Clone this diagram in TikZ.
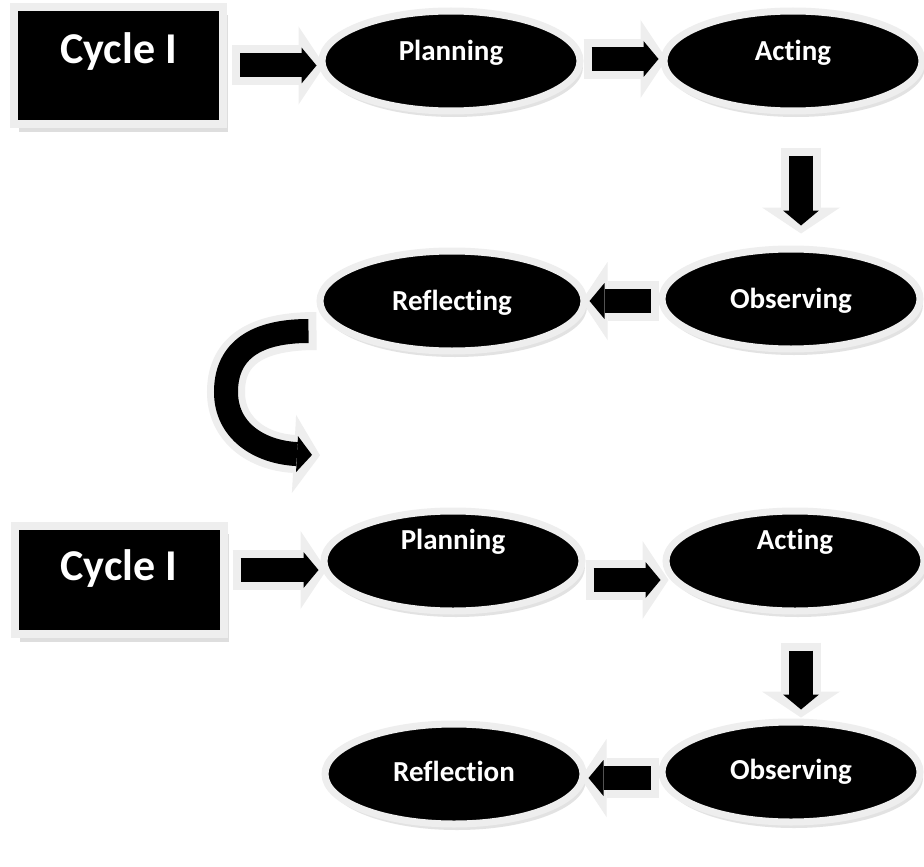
\documentclass[tikz,border=0pt]{standalone}
\usepackage{fontspec}
\setmainfont{Carlito}[Ligatures=NoCommon]
\usetikzlibrary{shapes.geometric}
\usetikzlibrary{arrows.meta}
\usetikzlibrary{shadows}
\tikzset{
    cyclebox/.style = {rectangle, fill=black, draw=gray!13, line width=8pt, minimum width=209pt, minimum height=117pt, font=\bfseries\fontsize{44}{44}\selectfont, text=white, text height=30pt, text depth=#1, drop shadow={shadow xshift=5pt, shadow yshift=-8pt, fill=gray!50}},
    cyclebox/.default = 30pt,
    stagenode/.style = {ellipse, fill=black, draw=gray!13, line width=7pt, minimum width=258pt, minimum height=100pt, font=\bfseries\fontsize{29}{29}\selectfont, text=white, text height=20pt, text depth=#1, drop shadow={shadow xshift=3pt, shadow yshift=-6pt, fill=gray!45}},
    stagenode/.default = 2pt,
    fatarrow/.style = {draw=gray!13, line width=40pt, -{Triangle[length=26pt,width=78pt,line width=0pt]}, shorten >=-6pt,
        postaction={draw=black, line width=24pt, shorten >=2pt, shorten <=8pt, -{Triangle[length=15pt,width=36pt,line width=0pt]}}}, % inner black arrow
}

\begin{document}
\begin{tikzpicture}[x=1pt,y=-1pt]
\path[fill=white] (0,0) rectangle (924,867);
\useasboundingbox (0,0) rectangle (924,867);

% first cycle
\node[cyclebox=34pt] at (118.5, 65.5) (cyc1) {Cycle I};
\node[stagenode=20pt] at (451, 61) (plan1) {Planning};
\node[stagenode=20pt] at (793, 61) (act1) {Acting};
\node[stagenode] at (791, 299) (obs1) {Observing};
\node[stagenode, minimum width=264pt] at (452, 301) (refl1) {Reflecting};

% second cycle
\node[cyclebox=30pt, minimum height=108pt] at (119, 580) (cyc2) {Cycle I};
\node[stagenode=44pt] at (453, 561) (plan2) {Planning};
\node[stagenode=44pt] at (795, 561) (act2) {Acting};
\node[stagenode=6pt] at (791, 772) (obs2) {Observing};
\node[stagenode=6pt] at (454, 774) (refl2) {Reflection};

\coordinate (loopend) at (314, 455);

\draw[fatarrow] ([xshift=5pt]cyc1.east) -- ([yshift=-4.5pt]plan1.west);
\draw[fatarrow] ([yshift=2pt]plan1.east) -- ([yshift=2pt]act1.west);
\draw[fatarrow] ([xshift=8pt,yshift=-33pt]act1.south) -- ([xshift=10pt,yshift=18pt]obs1.north);
\draw[fatarrow] ([yshift=-2pt]obs1.west) -- (refl1.east);
\draw[fatarrow, line width=38pt] ([yshift=-30pt]refl1.west) .. controls (250,331) and (226,355) .. (226,392) .. controls (226,430) and (258,452) .. (loopend);

\draw[fatarrow] ([xshift=5pt,yshift=10pt]cyc2.east) -- ([yshift=-9pt]plan2.west);
\draw[fatarrow] ([yshift=-19pt]plan2.east) -- ([yshift=-19pt]act2.west);
\draw[fatarrow] ([xshift=6pt,yshift=-28pt]act2.south) -- ([xshift=10pt,yshift=7pt]obs2.north);
\draw[fatarrow] ([yshift=-6pt]obs2.west) -- ([yshift=-4pt]refl2.east);

\end{tikzpicture}
\end{document}
